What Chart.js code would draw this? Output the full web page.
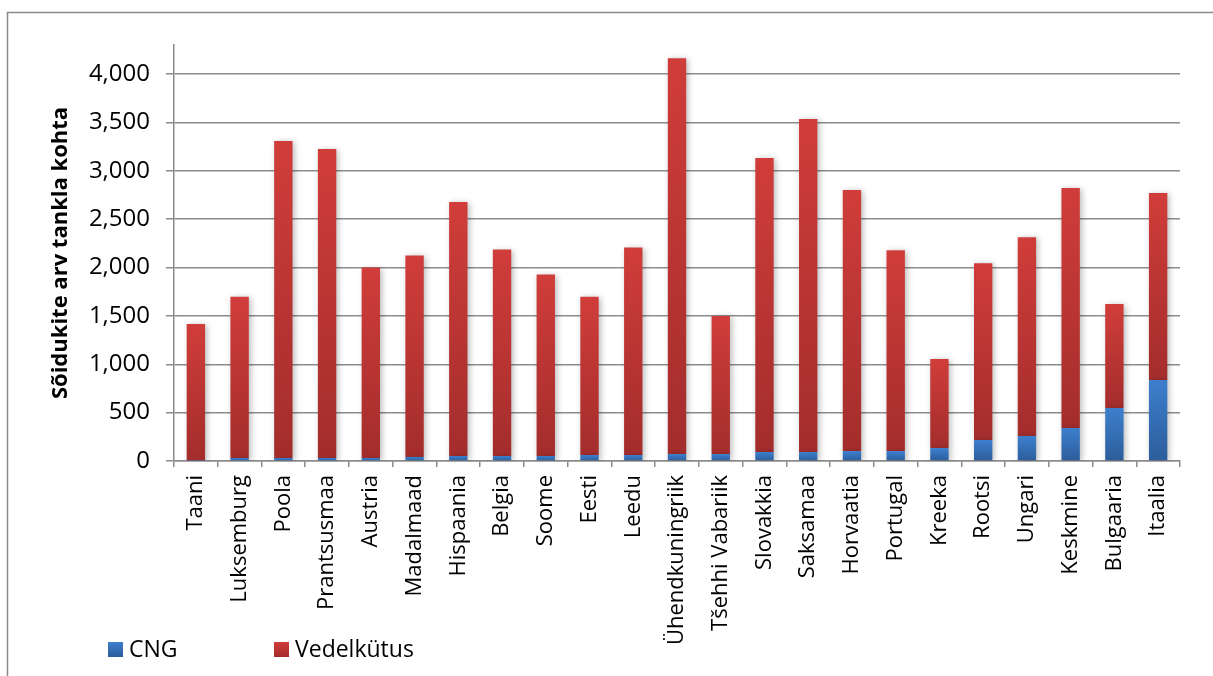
<!DOCTYPE html>
<html>
<head>
<meta charset="utf-8">
<script src="https://cdn.jsdelivr.net/npm/chart.js@4/dist/chart.umd.min.js"></script>
<style>
  html, body { margin: 0; padding: 0; background: #fff; }
  canvas { display: block; }
</style>
</head>
<body>
<canvas id="c" width="1213" height="676"></canvas>
<script>
// Countries (plus the average) along the x axis
const categories = [
  'Taani', 'Luksemburg', 'Poola', 'Prantsusmaa', 'Austria', 'Madalmaad',
  'Hispaania', 'Belgia', 'Soome', 'Eesti', 'Leedu', 'Ühendkuningriik',
  'Tšehhi Vabariik', 'Slovakkia', 'Saksamaa', 'Horvaatia', 'Portugal',
  'Kreeka', 'Rootsi', 'Ungari', 'Keskmine', 'Bulgaaria', 'Itaalia'
];

// Vehicles per filling station, CNG part
const cngValues = [
  3, 31, 31, 31, 31, 42, 52, 52, 52, 62, 62, 72,
  72, 93, 93, 103, 103, 134, 217, 259, 341, 548, 838
];

// Vehicles per filling station, liquid fuel part
const liquidValues = [
  1414, 1666, 3276, 3193, 1969, 2082, 2624, 2134, 1876, 1635, 2145, 4090,
  1428, 3038, 3441, 2697, 2076, 921, 1828, 2055, 2480, 1076, 1931
];

const seriesNames = ['CNG', 'Vedelkütus'];
const yTickValues = [0, 500, 1000, 1500, 2000, 2500, 3000, 3500, 4000];

const FONT = '"Open Sans", Lato, sans-serif';
const GRID = '#8c8c8c';

const palettes = [
  { top: '#3d7fcd', bottom: '#2c5d9b' },
  { top: '#d03d3a', bottom: '#a32d2c' }
];

// Each bar segment gets its own vertical gradient, light on top and dark at its base
function segmentFill(ctx) {
  const chart = ctx.chart;
  const pal = palettes[ctx.datasetIndex];
  const y = chart.scales.y;
  if (!y || ctx.type !== 'data') return pal.top;
  const i = ctx.dataIndex;
  const base = ctx.datasetIndex === 0 ? 0 : cngValues[i];
  const top = ctx.datasetIndex === 0 ? cngValues[i] : cngValues[i] + liquidValues[i];
  const y0 = y.getPixelForValue(top);
  const y1 = y.getPixelForValue(base);
  if (!isFinite(y0) || !isFinite(y1) || y0 === y1) return pal.top;
  const g = chart.ctx.createLinearGradient(0, y0, 0, y1);
  g.addColorStop(0, pal.top);
  g.addColorStop(1, pal.bottom);
  return g;
}

// Outer frame and soft shadow behind the bars
const framePlugin = {
  id: 'frame',
  beforeDraw(chart) {
    const c = chart.ctx;
    c.save();
    c.fillStyle = '#ffffff';
    c.fillRect(0, 0, chart.width, chart.height);
    c.strokeStyle = '#8a8a8a';
    c.lineWidth = 1.5;
    c.beginPath();
    c.moveTo(7.5, chart.height);
    c.lineTo(7.5, 12.5);
    c.lineTo(chart.width, 12.5);
    c.stroke();
    c.restore();
  },
  beforeDatasetsDraw(chart) {
    const c = chart.ctx;
    c.save();
    c.shadowColor = 'rgba(0,0,0,0.28)';
    c.shadowBlur = 6;
    c.shadowOffsetX = 2;
    c.shadowOffsetY = 1;
    chart._barShadow = true;
  },
  afterDatasetsDraw(chart) {
    if (chart._barShadow) { chart.ctx.restore(); chart._barShadow = false; }
  }
};

// Legend along the bottom, spaced like the original layout
const legendPlugin = {
  id: 'bottomLegend',
  afterDraw(chart) {
    const c = chart.ctx;
    const items = [
      { x: 108, label: seriesNames[0], pal: palettes[0] },
      { x: 274, label: seriesNames[1], pal: palettes[1] }
    ];
    const boxY = 642, size = 15;
    c.save();
    items.forEach(it => {
      const g = c.createLinearGradient(0, boxY, 0, boxY + size);
      g.addColorStop(0, it.pal.top);
      g.addColorStop(1, it.pal.bottom);
      c.fillStyle = g;
      c.fillRect(it.x, boxY, size, size);
      c.fillStyle = '#000';
      c.font = '23px ' + FONT;
      c.textBaseline = 'middle';
      c.textAlign = 'left';
      c.fillText(it.label, it.x + size + 6, boxY + size / 2 + 1);
    });
    c.restore();
  }
};

new Chart(document.getElementById('c'), {
  type: 'bar',
  data: {
    labels: categories,
    datasets: [
      { label: seriesNames[0], data: cngValues, backgroundColor: segmentFill },
      { label: seriesNames[1], data: liquidValues, backgroundColor: segmentFill }
    ]
  },
  options: {
    responsive: false,
    animation: false,
    events: [],
    layout: { padding: { left: 0, top: 45, right: 33, bottom: 0 } },
    datasets: {
      bar: { barPercentage: 0.42, categoryPercentage: 1.0, borderWidth: 0 }
    },
    plugins: {
      legend: { display: false },
      tooltip: { enabled: false }
    },
    scales: {
      x: {
        stacked: true,
        offset: true,
        grid: {
          offset: true,
          drawOnChartArea: false,
          drawTicks: true,
          tickLength: 6,
          color: GRID,
          lineWidth: 1.5
        },
        border: { display: true, color: GRID, width: 1.5 },
        ticks: {
          autoSkip: false,
          minRotation: 90,
          maxRotation: 90,
          padding: 8,
          color: '#000',
          font: { family: FONT, size: 22 }
        },
        afterFit(scale) { scale.height = 676 - 461; }
      },
      y: {
        stacked: true,
        min: 0,
        max: 4300,
        grid: {
          color: GRID,
          lineWidth: 1.5,
          drawTicks: true,
          tickLength: 8
        },
        border: { display: true, color: GRID, width: 1.5 },
        ticks: {
          stepSize: 500,
          padding: 16,
          color: '#000',
          font: { family: FONT, size: 24 },
          callback: v => v.toLocaleString('en-US')
        },
        afterBuildTicks(scale) {
          scale.ticks = yTickValues.map(v => ({ value: v }));
        },
        title: {
          display: true,
          text: 'Sõidukite arv tankla kohta',
          color: '#000',
          font: { family: FONT, size: 22, weight: 'bold' },
          padding: { top: 48, bottom: 0 }
        },
        afterFit(scale) { scale.width = 174; }
      }
    }
  },
  plugins: [framePlugin, legendPlugin]
});
</script>
</body>
</html>
